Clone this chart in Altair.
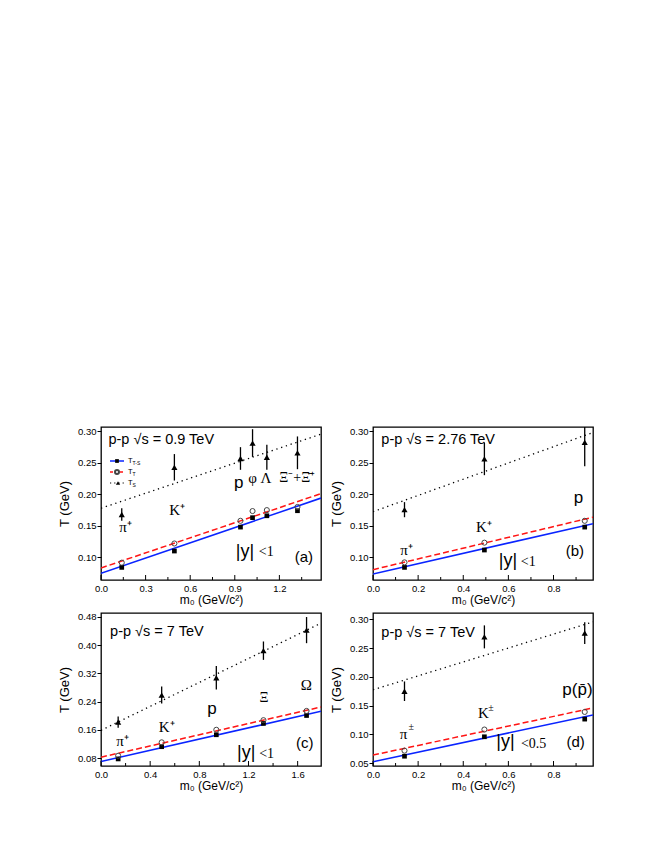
import altair as alt
import pandas as pd

# ---------------- particle masses (GeV/c^2) ----------------
M_PI, M_K, M_P = 0.1396, 0.4937, 0.9383
M_PHI, M_LAM, M_XI, M_OM = 1.0195, 1.1157, 1.3217, 1.6725

SERIES = ["TTS", "TT", "TS"]

# ---------------- (a) p-p 0.9 TeV ----------------
m0_a = [M_PI, M_K, M_P, M_PHI, M_LAM, M_XI]
tts_a = [0.084, 0.110, 0.148, 0.163, 0.166, 0.174]
tt_a = [0.0915, 0.122, 0.158, 0.1735, 0.175, 0.180]
ts_a = [0.168, 0.243, 0.257, 0.2815, 0.259, 0.266]
err_a = [0.010, 0.021, 0.018, 0.022, 0.020, 0.026]
fit_int_a = [0.0746, 0.0831, 0.178]
fit_slope_a = [0.0807, 0.0798, 0.0795]

# ---------------- (b) p-p 2.76 TeV ----------------
m0_b = [M_PI, M_K, M_P]
tts_b = [0.084, 0.1116, 0.148]
tt_b = [0.092, 0.1233, 0.158]
ts_b = [0.1757, 0.2565, 0.2825]
err_b = [0.012, 0.026, 0.038]
fit_int_b = [0.0735, 0.0804, 0.1725]
fit_slope_b = [0.082, 0.0855, 0.129]

# ---------------- (c) p-p 7 TeV, |y|<1 ----------------
m0_c = [M_PI, M_K, M_P, M_XI, M_OM]
tts_c = [0.078, 0.1126, 0.1464, 0.1784, 0.2009]
tt_c = [0.087, 0.125, 0.1605, 0.1877, 0.2139]
ts_c = [0.182, 0.2588, 0.3077, 0.3844, 0.4426]
err_c = [0.016, 0.024, 0.033, 0.026, 0.037]
fit_int_c = [0.0705, 0.083, 0.159]
fit_slope_c = [0.0796, 0.0793, 0.1694]

# ---------------- (d) p-p 7 TeV, |y|<0.5 ----------------
m0_d = [M_PI, M_K, M_P]
tts_d = [0.062, 0.0958, 0.1265]
tt_d = [0.0717, 0.1084, 0.139]
ts_d = [0.175, 0.2695, 0.276]
err_d = [0.017, 0.020, 0.019]
fit_int_d = [0.0524, 0.064, 0.1775]
fit_slope_d = [0.0835, 0.084, 0.121]

# ---------------- axes ----------------
xdom_a, ydom_a = [0.0, 1.48], [0.064, 0.307]
xdom_b, ydom_b = [0.0, 0.975], [0.064, 0.307]
xdom_c, ydom_c = [0.0, 1.79], [0.058, 0.491]
xdom_d, ydom_d = [0.0, 0.975], [0.045, 0.311]
xt_a = [0.0, 0.3, 0.6, 0.9, 1.2]
xt_b = [0.0, 0.2, 0.4, 0.6, 0.8]
xt_c = [0.0, 0.4, 0.8, 1.2, 1.6]
xt_d = [0.0, 0.2, 0.4, 0.6, 0.8]
yt_a = [0.10, 0.15, 0.20, 0.25, 0.30]
yt_b = [0.10, 0.15, 0.20, 0.25, 0.30]
yt_c = [0.08, 0.16, 0.24, 0.32, 0.40, 0.48]
yt_d = [0.05, 0.10, 0.15, 0.20, 0.25, 0.30]

# ---------------- annotations (text, x, y, size) ----------------
title_a, title_pos_a = "p-p √s = 0.9 TeV", (0.05, 0.287)
title_b, title_pos_b = "p-p √s = 2.76 TeV", (0.037, 0.286)
title_c, title_pos_c = "p-p √s = 7 TeV", (0.074, 0.436)
title_d, title_pos_d = "p-p √s = 7 TeV", (0.037, 0.277)

sans_a = [("p", 0.926, 0.218, 17), ("|y|", 0.969, 0.108, 18), ("(a)", 1.365, 0.1005, 15)]
serif_a = [("π⁺", 0.165, 0.148, 15), ("K⁺", 0.513, 0.1756, 15), ("φ", 1.02, 0.226, 15),
           ("Λ", 1.11, 0.226, 15), ("Ξ⁻+Ξ̄⁺", 1.32, 0.226, 14), ("<1", 1.112, 0.108, 14)]
sans_b = [("p", 0.911, 0.194, 17), ("|y|", 0.598, 0.0946, 18), ("(b)", 0.895, 0.1105, 15)]
serif_b = [("π⁺", 0.149, 0.1116, 15), ("K⁺", 0.492, 0.1486, 15), ("<1", 0.688, 0.092, 14)]
sans_c = [("p", 0.904, 0.2206, 17), ("|y|", 1.181, 0.094, 18), ("(c)", 1.657, 0.124, 15)]
serif_c = [("π⁺", 0.175, 0.130, 15), ("K⁺", 0.534, 0.169, 15), ("Ξ", 1.326, 0.2515, 14),
           ("Ω", 1.671, 0.286, 15), ("<1", 1.348, 0.091, 14)]
sans_d = [("p(p̄)", 0.906, 0.178, 17), ("|y|", 0.587, 0.0862, 18), ("(d)", 0.898, 0.086, 15)]
serif_d = [("π", 0.135, 0.1005, 15), ("±", 0.169, 0.113, 10), ("K", 0.489, 0.138, 15),
           ("±", 0.523, 0.146, 10), ("<0.5", 0.712, 0.0825, 14)]

W, H = 220, 153
BLUE = "#0a24ff"
RED = "#ff1414"
SANS = "Liberation Sans"
SERIF = "Liberation Serif"


def minor_ticks(major, xmax):
    step = major[1] - major[0]
    return [round(t + step / 2, 4) for t in major if t + step / 2 < xmax]


def panel(m0, tts, tt, ts, err, fint, fslope, xdom, ydom, xt, yt, title, tpos,
          sans, serif, legend=False):
    X = alt.X("x:Q", scale=alt.Scale(domain=xdom, nice=False, zero=False),
              axis=alt.Axis(values=xt, format=".1f", title="m₀ (GeV/c²)", ticks=False,
                            tickSize=0, labelPadding=3, titlePadding=2, grid=False,
                            domain=False, labelFlush=False))
    Y = alt.Y("y:Q", scale=alt.Scale(domain=ydom, nice=False, zero=False),
              axis=alt.Axis(values=yt, format=".2f", title="T (GeV)", ticks=True,
                            tickSize=4, tickWidth=1, labelPadding=1, titlePadding=6,
                            grid=False, domain=False, labelFlush=False))

    pts = pd.DataFrame({
        "x": list(m0) * 3,
        "y": list(tts) + list(tt) + list(ts),
        "s": ["TTS"] * len(m0) + ["TT"] * len(m0) + ["TS"] * len(m0),
    })
    bars = pd.DataFrame({"x": m0, "y": [v - e for v, e in zip(ts, err)],
                         "y2": [v + e for v, e in zip(ts, err)]})
    rows = []
    for name, a, b in zip(SERIES, fint, fslope):
        for xv in (xdom[0], xdom[1]):
            rows.append({"x": xv, "y": a + b * xv, "s": name})
    fits = pd.DataFrame(rows)

    base_fit = alt.Chart(fits)
    l_tts = base_fit.mark_line(color=BLUE, strokeWidth=1.6, clip=True).encode(
        x=X, y=Y).transform_filter(alt.datum.s == "TTS")
    l_tt = base_fit.mark_line(color=RED, strokeWidth=1.5, strokeDash=[6, 3], clip=True).encode(
        x=X, y=Y).transform_filter(alt.datum.s == "TT")
    l_ts = base_fit.mark_line(color="black", strokeWidth=1.3, strokeDash=[1.3, 3.7],
                              clip=True).encode(x=X, y=Y).transform_filter(alt.datum.s == "TS")

    eb = alt.Chart(bars).mark_rule(color="black", strokeWidth=1.3, clip=True).encode(
        x=X, y=Y, y2="y2:Q")

    base_pts = alt.Chart(pts)
    p_sq = base_pts.mark_point(shape="square", filled=True, color="black", size=22,
                               opacity=1, clip=True).encode(x=X, y=Y).transform_filter(
        alt.datum.s == "TTS")
    p_ci = base_pts.mark_point(shape="circle", filled=False, color="#444444", size=26,
                               strokeWidth=1, opacity=1, clip=True).encode(
        x=X, y=Y).transform_filter(alt.datum.s == "TT")
    p_tr = base_pts.mark_point(shape="triangle-up", filled=True, color="black", size=38,
                               opacity=1, clip=True).encode(x=X, y=Y).transform_filter(
        alt.datum.s == "TS")

    sans_df = pd.DataFrame(sans, columns=["t", "x", "y", "fs"])
    serif_df = pd.DataFrame(serif, columns=["t", "x", "y", "fs"])
    t_sans = alt.Chart(sans_df).mark_text(font=SANS, align="center", baseline="middle",
                                          color="black").encode(
        x=X, y=Y, text="t:N", size=alt.Size("fs:Q", scale=None, legend=None))
    t_serif = alt.Chart(serif_df).mark_text(font=SERIF, align="center", baseline="middle",
                                            color="black").encode(
        x=X, y=Y, text="t:N", size=alt.Size("fs:Q", scale=None, legend=None))
    ttl = alt.Chart(pd.DataFrame({"t": [title], "x": [tpos[0]], "y": [tpos[1]]})).mark_text(
        font=SANS, fontSize=14.5, align="left", baseline="middle", color="black").encode(
        x=X, y=Y, text="t:N")

    major = pd.DataFrame({"x": xt})
    minor = pd.DataFrame({"x": minor_ticks(xt, xdom[1])})
    tk_major = alt.Chart(major).mark_rule(color="black", strokeWidth=1).encode(
        x=X, y=alt.value(H), y2=alt.value(H - 5))
    tk_minor = alt.Chart(minor).mark_rule(color="black", strokeWidth=1).encode(
        x=X, y=alt.value(H), y2=alt.value(H - 3))

    layers = [l_tts, l_tt, l_ts, eb, p_sq, p_ci, p_tr, t_sans, t_serif, ttl, tk_major, tk_minor]

    if legend:
        one = pd.DataFrame({"k": [0]})
        rows_y = [34, 45, 56]
        subs = ["T-S", "T", "S"]
        lg = [
            alt.Chart(one).mark_rule(color=BLUE, strokeWidth=1.5).encode(
                x=alt.value(9), x2=alt.value(23), y=alt.value(rows_y[0])),
            alt.Chart(one).mark_point(shape="square", filled=True, color="black", size=14,
                                      opacity=1).encode(x=alt.value(16), y=alt.value(rows_y[0])),
            alt.Chart(one).mark_rule(color=RED, strokeWidth=1.3, strokeDash=[3, 2]).encode(
                x=alt.value(9), x2=alt.value(23), y=alt.value(rows_y[1])),
            alt.Chart(one).mark_point(shape="circle", filled=True, fill="white",
                                      stroke="#444444", size=16, opacity=1).encode(
                x=alt.value(16), y=alt.value(rows_y[1])),
            alt.Chart(one).mark_rule(color="black", strokeWidth=1.2, strokeDash=[1.2, 3]).encode(
                x=alt.value(9), x2=alt.value(23), y=alt.value(rows_y[2])),
            alt.Chart(one).mark_point(shape="triangle-up", filled=True, color="black", size=18,
                                      opacity=1).encode(x=alt.value(17), y=alt.value(rows_y[2])),
        ]
        for ry, sub in zip(rows_y, subs):
            lg.append(alt.Chart(one).mark_text(font=SANS, fontSize=7.5, align="left",
                                               baseline="middle", color="black", text="T").encode(
                x=alt.value(27), y=alt.value(ry)))
            lg.append(alt.Chart(one).mark_text(font=SANS, fontSize=5, align="left",
                                               baseline="middle", color="black", text=sub).encode(
                x=alt.value(31.5), y=alt.value(ry + 2)))
        layers += lg

    return alt.layer(*layers).properties(width=W, height=H)


pa = panel(m0_a, tts_a, tt_a, ts_a, err_a, fit_int_a, fit_slope_a, xdom_a, ydom_a, xt_a, yt_a,
           title_a, title_pos_a, sans_a, serif_a, legend=True)
pb = panel(m0_b, tts_b, tt_b, ts_b, err_b, fit_int_b, fit_slope_b, xdom_b, ydom_b, xt_b, yt_b,
           title_b, title_pos_b, sans_b, serif_b)
pc = panel(m0_c, tts_c, tt_c, ts_c, err_c, fit_int_c, fit_slope_c, xdom_c, ydom_c, xt_c, yt_c,
           title_c, title_pos_c, sans_c, serif_c)
pdd = panel(m0_d, tts_d, tt_d, ts_d, err_d, fit_int_d, fit_slope_d, xdom_d, ydom_d, xt_d, yt_d,
            title_d, title_pos_d, sans_d, serif_d)

chart = alt.vconcat(
    alt.hconcat(pa, pb, spacing=7),
    alt.hconcat(pc, pdd, spacing=7),
    spacing=4,
).properties(
    padding={"left": 49, "top": 417, "right": 5, "bottom": 5},
    background="white",
).configure_view(
    stroke="black", strokeWidth=1.3
).configure_axis(
    labelFont=SANS, labelFontSize=9.5, labelColor="black",
    titleFont=SANS, titleFontWeight="normal", titleColor="black", tickColor="black",
).configure_axisX(
    titleFontSize=12
).configure_axisY(
    titleFontSize=13
)

chart.save("out.html", embed_options={"renderer": "svg", "actions": False})
